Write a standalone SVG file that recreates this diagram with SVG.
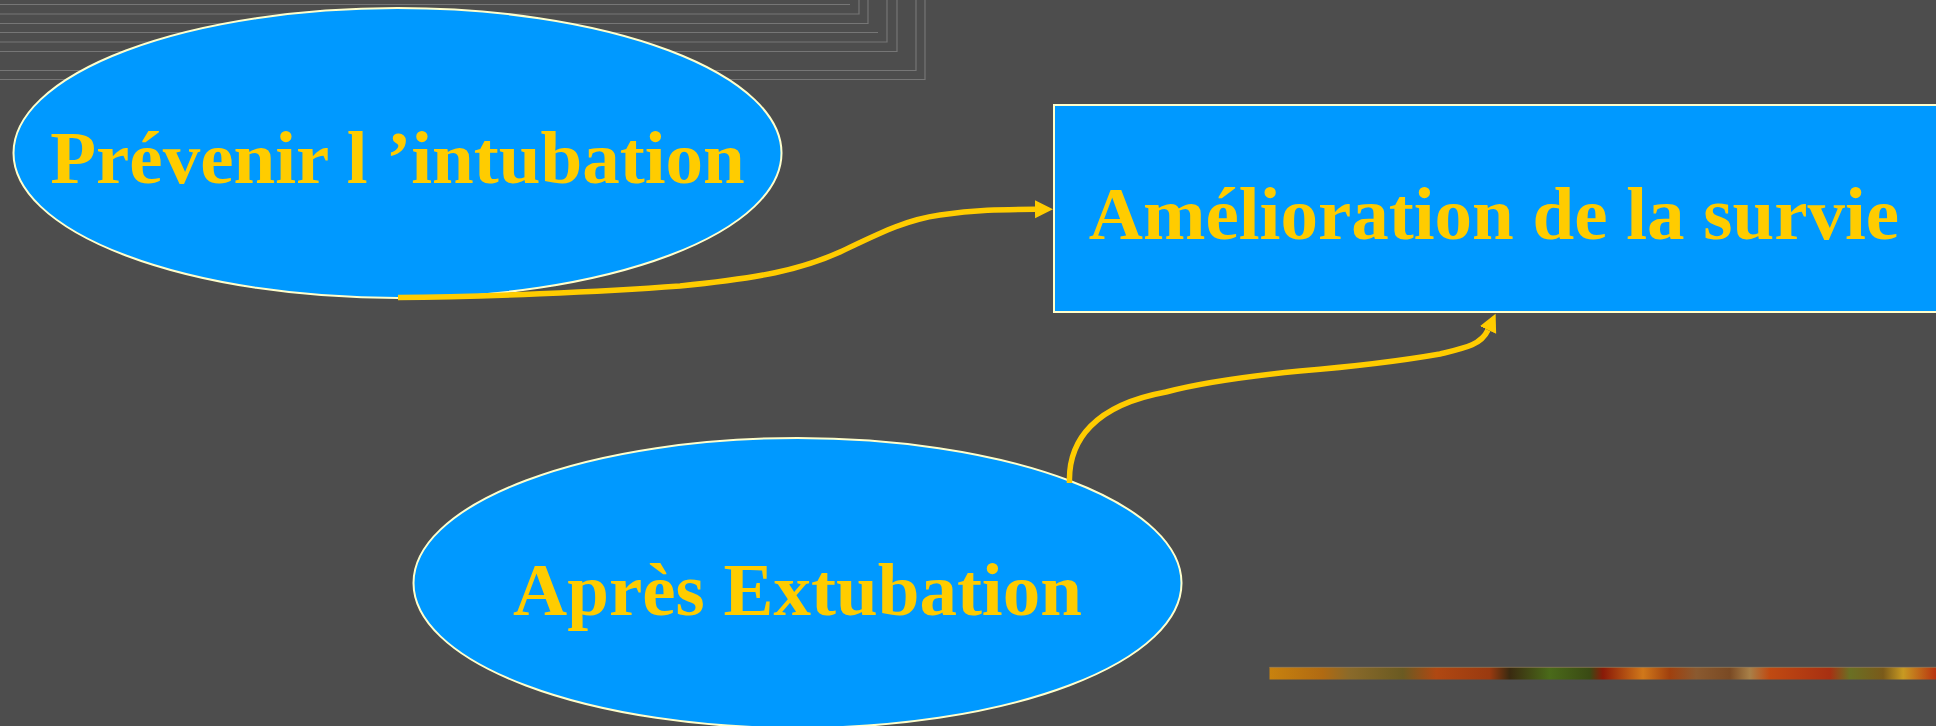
<svg xmlns="http://www.w3.org/2000/svg" width="1936" height="726" viewBox="0 0 1936 726">
  <style>
    .bg { fill: #4d4d4d; }
    .deco { stroke: #767676; stroke-width: 1.2; fill: none; }
    .node { fill: #0099ff; stroke: #ffffcc; stroke-width: 2; }
    .label { font-family: "Liberation Serif", "Times New Roman", serif; font-weight: bold; font-size: 75px; fill: #ffcc00; text-anchor: middle; }
    .conn { fill: none; stroke: #ffcc00; stroke-width: 5.5; stroke-linecap: butt; stroke-linejoin: round; }
  </style>
  <defs>
    <marker id="arrow" markerUnits="userSpaceOnUse" markerWidth="20" markerHeight="20" viewBox="0 0 20 20" refX="0" refY="10" orient="auto">
      <path d="M0,1 L18,10 L0,19 z" fill="#ffcc00"/>
    </marker>
    <linearGradient id="strip" x1="0" y1="0" x2="1" y2="0">
      <stop offset="0" stop-color="#c8820e"/>
      <stop offset="0.08" stop-color="#b06a12"/>
      <stop offset="0.12" stop-color="#8a6a2a"/>
      <stop offset="0.2" stop-color="#6a5a22"/>
      <stop offset="0.25" stop-color="#b04812"/>
      <stop offset="0.33" stop-color="#9a3a10"/>
      <stop offset="0.36" stop-color="#3a2a10"/>
      <stop offset="0.42" stop-color="#4a6a1a"/>
      <stop offset="0.48" stop-color="#3a4a14"/>
      <stop offset="0.5" stop-color="#8a1a08"/>
      <stop offset="0.56" stop-color="#d0781a"/>
      <stop offset="0.6" stop-color="#a0400e"/>
      <stop offset="0.64" stop-color="#8a5a30"/>
      <stop offset="0.69" stop-color="#7a4a24"/>
      <stop offset="0.72" stop-color="#a88048"/>
      <stop offset="0.75" stop-color="#c04a12"/>
      <stop offset="0.84" stop-color="#a83012"/>
      <stop offset="0.87" stop-color="#6a7024"/>
      <stop offset="0.92" stop-color="#7a5a1a"/>
      <stop offset="0.95" stop-color="#c89a22"/>
      <stop offset="1" stop-color="#b83210"/>
    </linearGradient>
  </defs>

  <rect class="bg" x="0" y="0" width="1936" height="726"/>

  <!-- decorative nested corner lines, top-left -->
  <g id="decoration">
    <path class="deco" d="M0,4.5 H850"/>
    <path class="deco" d="M0,14 H859 V0"/>
    <path class="deco" d="M0,23.5 H868 V0"/>
    <path class="deco" d="M0,32.5 H878"/>
    <path class="deco" d="M0,42 H887 V0"/>
    <path class="deco" d="M0,51.5 H897 V0"/>
    <path class="deco" d="M0,70.5 H916 V0"/>
    <path class="deco" d="M0,79.5 H925 V0"/>
  </g>

  <!-- bottom-right textured strip -->
  <g id="strip-band">
    <rect x="1269.5" y="667" width="667" height="12.5" fill="url(#strip)"/>
    <line x1="1269.5" y1="667.3" x2="1936" y2="667.3" stroke="#8a7a60" stroke-width="0.8"/>
  </g>

  <g id="node-prevenir">
    <ellipse class="node" cx="397.5" cy="153" rx="384" ry="145"/>
    <text class="label" x="397.5" y="183">Prévenir l ’intubation</text>
  </g>

  <g id="node-apres">
    <ellipse class="node" cx="797.5" cy="583" rx="384" ry="145"/>
    <text class="label" x="797.5" y="615">Après Extubation</text>
  </g>

  <g id="node-amelioration">
    <rect class="node" x="1054" y="105" width="1879" height="207"/>
    <text class="label" x="1494" y="239">Amélioration de la survie</text>
  </g>

  <g id="connectors">
    <path class="conn" marker-end="url(#arrow)" d="M398,297.5 C480,297 600,292 680,286 C760,278 800,270 840,252 C880,233 905,220 940,215 C975,210 1000,209.5 1035,209.3"/>
    <path class="conn" marker-end="url(#arrow)" d="M1069.5,483 C1068,440 1095,405 1166,392 C1200,383 1240,377 1300,371 C1360,366 1400,361 1440,354 C1465,348 1481,345 1488,330"/>
  </g>
</svg>
